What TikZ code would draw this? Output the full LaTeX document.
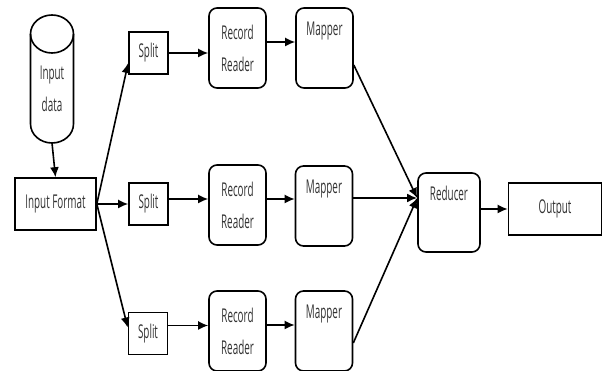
\documentclass[tikz,border=0pt]{standalone}
\usepackage{fontspec}
\setmainfont{Open Sans}[FakeStretch=0.52]
\usetikzlibrary{arrows.meta}

\tikzset{
  caixa/.style={draw,inner sep=0pt,align=center},
  redondo/.style={caixa,rounded corners=8pt,minimum width=57pt,minimum height=80pt,
    execute at begin node={\rule{0pt}{20pt}}},
  divisao/.style={caixa,minimum width=39pt,minimum height=42pt}
}

\begin{document}
\begin{tikzpicture}[x=1pt,y=1pt,>={Latex[length=10pt,width=9pt]},line width=1.6pt,
  font=\fontsize{19}{22}\selectfont,text=black!80]

  % Moldura
  \useasboundingbox (0,0) rectangle (603,371);

  % Cilindro (dados de entrada)
  \draw (30.5,337) -- (30.5,247)
    arc[start angle=180,end angle=360,x radius=21.5pt,y radius=19pt] -- (73.5,337);
  \draw (52,337) ellipse [x radius=21.5pt,y radius=19pt];
  \node (dados) at (52,282) [align=center] {Input\\[10pt]data};
  \coordinate (cilbase) at (52,228);

  % Caixas
  \node[caixa,minimum width=81pt,minimum height=52pt] (formato) at (55.5,167) {Input Format};

  \node[divisao] (split1) at (148.5,318) {Split};
  \node[divisao] (split2) at (148.5,167) {Split};
  \node[divisao] (split3) at (148,37.5) {Split};

  \node[redondo] (leitor1) at (237.5,323) {Record\\[10pt]Reader};
  \node[redondo] (leitor2) at (237.5,166) {Record\\[10pt]Reader};
  \node[redondo] (leitor3) at (237.5,40) {Record\\[10pt]Reader};

  \node[redondo] (mapa1) at (324.5,323) {Mapper\\[10pt]\strut};
  \node[redondo] (mapa2) at (324,165) {Mapper\\[10pt]\strut};
  \node[redondo] (mapa3) at (324,40) {Mapper\\[10pt]\strut};

  \node[redondo,minimum width=62pt,minimum height=79pt] (redutor) at (449,158.5) {Reducer\\[10pt]\strut};
  \node[caixa,minimum width=93pt,minimum height=52pt] (saida) at (555,162) {Output};

  % Setas
  \draw[->] (cilbase) -- (formato.north);
  \draw[->] (formato.east) -- ([yshift=-10pt]split1.west);
  \draw[->] (formato.east) -- (split2.west);
  \draw[->] (formato.east) -- ([yshift=6pt]split3.west);

  \foreach \i/\d in {1/0,2/5,3/8}
    \draw[->] ([yshift=\d pt]split\i.east) -- ([yshift=\d pt]split\i.east -| leitor\i.west);
  \foreach \i in {1,2,3}
    \draw[->] ([yshift=6pt]leitor\i.east) -- ([yshift=6pt]leitor\i.east -| mapa\i.west);

  \coordinate (entrada) at ([yshift=14.5pt]redutor.west);
  \draw[->] ([yshift=-17pt]mapa1.east) -- (entrada);
  \draw[->,line width=2.8pt] ([yshift=8pt]mapa2.east) -- (entrada);
  \draw[->] ([yshift=-12pt]mapa3.east) -- (entrada);

  \draw[->] (redutor.east |- saida.west) -- (saida.west);

\end{tikzpicture}
\end{document}
